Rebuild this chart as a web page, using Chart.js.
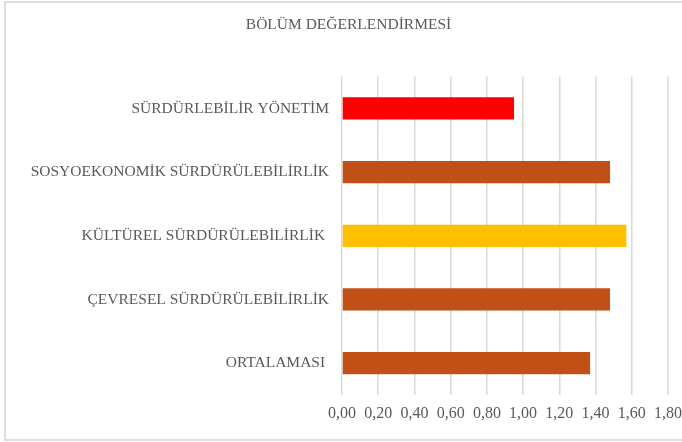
<!DOCTYPE html>
<html>
<head>
<meta charset="utf-8">
<script src="https://cdn.jsdelivr.net/npm/chart.js@4"></script>
<style>
  body { margin: 0; background: #fff; }
  .frame {
    position: absolute; left: 4px; top: 1px;
    width: 700px; height: 436px;
    border: 2px solid #dedede; border-right: none;
  }
  #myChart { position: absolute; left: 0; top: 0; }
</style>
</head>
<body>
<div class="frame"></div>
<canvas id="myChart" width="682" height="442"></canvas>
<script>
const titleText = 'BÖLÜM DEĞERLENDİRMESİ'

const categories = [
    'SÜRDÜRLEBİLİR YÖNETİM',
    'SOSYOEKONOMİK SÜRDÜRÜLEBİLİRLİK',
    'KÜLTÜREL SÜRDÜRÜLEBİLİRLİK ',
    'ÇEVRESEL SÜRDÜRÜLEBİLİRLİK',
    'ORTALAMASI '
]
const scores = [0.95, 1.48, 1.57, 1.48, 1.37]

const axisMin = 0
const axisMax = 1.8
const axisStep = 0.2

// one colour per bar
const barColors = ['#ff0000', '#c05016', '#ffc000', '#c05016', '#c05016']

const textGray = '#595959'
const serif = "'Liberation Serif', 'DejaVu Serif', serif"

const ctx = document.getElementById('myChart').getContext('2d')

const myChart = new Chart(ctx, {
    type: 'bar',
    data: {
        labels: categories,
        datasets: [{
            data: scores,
            backgroundColor: barColors,
            borderWidth: 0,
            barPercentage: 0.35,
            categoryPercentage: 1
        }]
    },
    options: {
        indexAxis: 'y',
        responsive: false,
        animation: false,
        layout: { padding: { left: 15, right: 0, top: 2, bottom: 17 } },
        plugins: {
            legend: { display: false },
            tooltip: { enabled: false },
            title: {
                display: true,
                text: titleText,
                color: textGray,
                font: { family: serif, size: 15.5, weight: 'normal' },
                padding: { top: 14, bottom: 42 }
            }
        },
        scales: {
            x: {
                min: axisMin,
                max: axisMax,
                afterFit: (scale) => { scale.height = 30 },
                ticks: {
                    stepSize: axisStep,
                    color: textGray,
                    padding: 0,
                    font: { family: serif, size: 16 },
                    callback: (v) => v.toFixed(2).replace('.', ',')
                },
                // invisible tick marks just push the labels down
                grid: {
                    color: '#d9d9d9',
                    lineWidth: 1.5,
                    drawTicks: true,
                    tickLength: 9,
                    tickColor: 'rgba(0,0,0,0)'
                },
                border: { display: false }
            },
            y: {
                afterFit: (scale) => { scale.width = 327 },
                ticks: {
                    color: textGray,
                    padding: 13,
                    font: { family: serif, size: 15.5 }
                },
                grid: { display: false, drawTicks: false },
                border: { display: false }
            }
        }
    }
})
</script>
</body>
</html>
